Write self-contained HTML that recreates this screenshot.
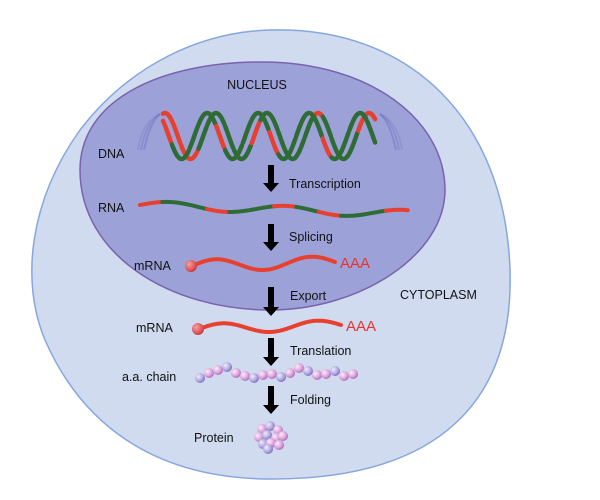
<!DOCTYPE html>
<html><head><meta charset="utf-8">
<style>
html,body{margin:0;padding:0;background:#fff;}
svg{display:block;}
text{font-family:"Liberation Sans",sans-serif;font-size:12.5px;fill:#111;}
</style></head>
<body>
<svg id="fig" width="600" height="500" viewBox="0 0 600 500">
<defs>
<radialGradient id="bead" cx="0.35" cy="0.35" r="0.7">
<stop offset="0" stop-color="#fbeefa"/><stop offset="0.6" stop-color="#dba6dc"/><stop offset="1" stop-color="#a968b5"/>
</radialGradient>
<radialGradient id="bead2" cx="0.35" cy="0.35" r="0.7">
<stop offset="0" stop-color="#eeeefb"/><stop offset="0.6" stop-color="#b3a9e0"/><stop offset="1" stop-color="#7c6cbc"/>
</radialGradient>
<radialGradient id="cap" cx="0.35" cy="0.35" r="0.7">
<stop offset="0" stop-color="#f7a0a0"/><stop offset="1" stop-color="#d0353a"/>
</radialGradient>
</defs>
<path d="M270 30 C410 26 505 120 510 270 C514 400 440 478 275 479 C150 480 80 420 45 340 C20 280 30 200 80 130 C130 65 200 32 270 30 Z" fill="#d0dbf0" stroke="#86a6de" stroke-width="1.5"/>
<path d="M262 62 C370 62 445 120 445 190 C445 255 360 310 270 310 C170 310 80 255 80 170 C80 100 160 62 262 62 Z" fill="#9ca2d8" stroke="#7a62ad" stroke-width="1.5"/>
<g id="dna"></g>
<g id="rna"></g>
<g id="mrna1"></g>
<g id="mrna2"></g>
<g id="chain"></g>
<g id="protein"></g>
<g id="arrows"></g>
<text x="257" y="89" text-anchor="middle">NUCLEUS</text>
<text x="98" y="158">DNA</text>
<text x="289" y="188">Transcription</text>
<text x="98" y="212">RNA</text>
<text x="289" y="241">Splicing</text>
<text x="134" y="270">mRNA</text>
<text x="340" y="268" style="fill:#e8332f;font-size:15px">AAA</text>
<text x="290" y="300">Export</text>
<text x="400" y="299">CYTOPLASM</text>
<text x="136" y="332">mRNA</text>
<text x="346" y="331" style="fill:#e8332f;font-size:15px">AAA</text>
<text x="290" y="355">Translation</text>
<text x="122" y="381">a.a. chain</text>
<text x="290" y="404">Folding</text>
<text x="194" y="442">Protein</text>
</svg>
<script>
const NS="http://www.w3.org/2000/svg";
const RED="#e8402f", GREEN="#2f6b35";
function mk(tag,attrs,parent){const e=document.createElementNS(NS,tag);for(const k in attrs)e.setAttribute(k,attrs[k]);parent.appendChild(e);return e;}
// DNA helix
const dna=document.getElementById('dna');
const x0=163,x1=376,period=51,yc=136,amp=23;
// faded ends
[[160,1],[380,-1]].forEach(([x,d])=>{for(let i=0;i<3;i++){mk('path',{d:`M${x} 114 Q${x-d*(10+i*4)} 122 ${x-d*(16+i*3)} 150`,stroke:"#6a6fc0","stroke-width":2,fill:"none",opacity:0.45-i*0.1},dna);}});
for(let s=0;s<2;s++){
  const ph=s*1.1;
  for(let seg=0;seg<24;seg++){
    const a=x0+(x1-x0)*seg/24,b=x0+(x1-x0)*(seg+1)/24;let d="";
    for(let x=a;x<=b+0.01;x+=1){const y=yc-amp*Math.cos((x-165)/period*2*Math.PI+ph);d+=(d?"L":"M")+x.toFixed(1)+" "+y.toFixed(1);}
    const red=(s===0&&(seg<3||seg%7===3||seg>21))||(s===1&&(seg%6===0));
    const p=mk('path',{d:d,stroke:red?RED:GREEN,"stroke-width":4.5,fill:"none","stroke-linecap":"round"},dna);
    
    
  }
}
// wavy strands
function wave(g,xa,xb,ya,yb,a,per,cols){
  const n=cols.length;
  for(let i=0;i<n;i++){
    const s=xa+(xb-xa)*i/n,e=xa+(xb-xa)*(i+1)/n;let d="";
    for(let x=s;x<=e+0.01;x+=1){const t=(x-xa)/(xb-xa);const y=ya+(yb-ya)*t-a*Math.sin(t*per*2*Math.PI);d+=(d?"L":"M")+x.toFixed(1)+" "+y.toFixed(1);}
    mk('path',{d:d,stroke:cols[i],"stroke-width":4,fill:"none","stroke-linecap":"round"},g);
  }
}
wave(document.getElementById('rna'),140,408,205,214,4,2.3,[RED,GREEN,GREEN,RED,GREEN,GREEN,RED,GREEN,RED,GREEN,GREEN,RED]);
const m1=document.getElementById('mrna1');
wave(m1,192,335,266,262,6,1.5,[RED]);
mk('circle',{cx:191,cy:266,r:6,fill:"url(#cap)"},m1);
const m2=document.getElementById('mrna2');
wave(m2,199,341,329,325,5,1.5,[RED]);
mk('circle',{cx:198,cy:329,r:6,fill:"url(#cap)"},m2);
// amino acid chain
const chain=document.getElementById('chain');
const beadY=[378,373,370,367,373,376,378,375,374,377,373,368,371,375,374,371,376,374];
for(let i=0;i<beadY.length;i++){
  const c=mk('circle',{cx:200+i*9,cy:beadY[i],r:5,fill:(i%3===0)?"url(#bead2)":"url(#bead)"},chain);
  
  
}
// protein cluster
const prot=document.getElementById('protein');
const pb=[[262,429],[270,426],[278,430],[259,437],[267,435],[276,438],[283,436],[263,444],[271,443],[279,445],[268,449]];
pb.forEach((p,i)=>{mk('circle',{cx:p[0],cy:p[1],r:5,fill:(i%3===1)?"url(#bead2)":"url(#bead)"},prot);});
// arrows
const ar=document.getElementById('arrows');
[[165,192],[224,251],[287,316],[338,366],[386,414]].forEach(([a,b])=>{
  const x=271;
  const p=mk('path',{d:`M${x-3} ${a} H${x+3} V${b-9} H${x+8} L${x} ${b} L${x-8} ${b-9} H${x-3} Z`,fill:"#000"},ar);
  
  
});
</script>
</body></html>
